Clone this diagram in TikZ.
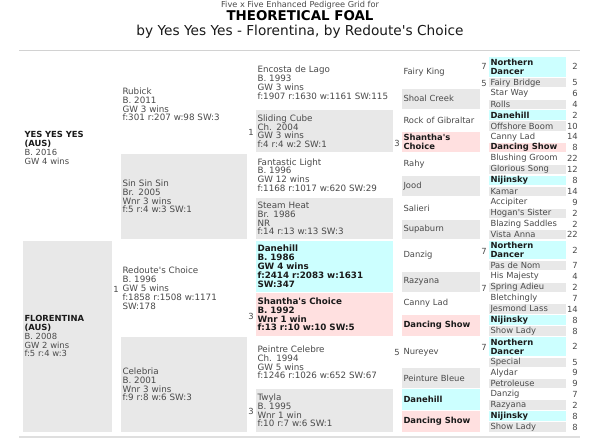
\documentclass[tikz,border=0pt]{standalone}
\usepackage{fontspec}
\setmainfont{DejaVu Sans}
\definecolor{cellgray}{HTML}{E8E8E8}
\definecolor{cellblue}{HTML}{CCFFFF}
\definecolor{cellpink}{HTML}{FFE0E0}
\definecolor{txtgray}{HTML}{4A4A4A}
\definecolor{txtdark}{HTML}{1A1A1A}
\definecolor{rulegray}{HTML}{D2D2D2}
\newcommand\gridfont{\fontsize{8.4}{8.8}\selectfont}
\newcommand\gridfontL{\fontsize{8.75}{8.8}\selectfont}
\newcommand\hname[1]{{\bfseries\color{txtdark}#1}}
\newcommand\q{\textquotesingle}
\tikzset{
  cell/.style={anchor=north west, inner xsep=1.5pt, inner ysep=0pt, outer sep=0pt,
    align=left, font=\gridfont, text=txtgray},
  gry/.style={fill=cellgray},
  blu/.style={fill=cellblue, text=txtdark, execute at begin node=\bfseries},
  pnk/.style={fill=cellpink, text=txtdark, execute at begin node=\bfseries},
  colA/.style={cell, text width=86pt},
  colB/.style={cell, text width=123pt, font=\gridfontL},
  colC/.style={cell, text width=134pt, font=\gridfontL},
  colD/.style={cell, text width=75pt},
  colE/.style={cell, text width=74pt},
  tally/.style={anchor=east, inner sep=0pt, font=\gridfont, text=txtgray},
  dup/.style={anchor=east, inner sep=0pt, font=\gridfont, text=txtgray}
}
\begin{document}
\begin{tikzpicture}[x=1pt,y=-1pt]
  \useasboundingbox (0,0) rectangle (600,440);
  \fill[white] (0,0) rectangle (600,440);
  % heading
  \node[anchor=base, inner sep=0pt, font=\fontsize{8.2}{9}\selectfont, text=txtgray] (kicker) at (300,7.5) {Five x Five Enhanced Pedigree Grid for};
  \node[anchor=base, inner sep=0pt, font=\fontsize{13.4}{15}\selectfont\bfseries, text=black] (foal) at (300,20.7) {THEORETICAL FOAL};
  \node[anchor=base, inner sep=0pt, font=\fontsize{13.7}{15}\selectfont, text=txtdark] (byline) at (300,35) {by Yes Yes Yes - Florentina, by Redoute\q s Choice};
  \draw[rulegray, line width=1.5pt] (19,50.7) -- (580,50.7);
  \draw[rulegray!70, line width=1.5pt] (19,436.8) -- (580,436.8);

  % parents
  \node[colA, minimum height=182.5pt] (sire) at (23,56.75) {\hname{YES YES YES}\\\hname{(AUS)}\\B. 2016\\GW 4 wins};
  \node[colA, gry, minimum height=191pt] (dam) at (23,240.75) {\hname{FLORENTINA}\\\hname{(AUS)}\\B. 2008\\GW 2 wins\\f:5 r:4 w:3};

  % grandparents
  \node[colB, minimum height=95.5pt] (rubick) at (121,56.75) {Rubick\\B. 2011\\GW 3 wins\\f:301 r:207 w:98 SW:3};
  \node[colB, gry, minimum height=85.5pt] (sinsinsin) at (121,153.75) {Sin Sin Sin\\Br. 2005\\Wnr 3 wins\\f:5 r:4 w:3 SW:1};
  \node[colB, minimum height=95pt] (redoute) at (121,240.75) {Redoute\q s Choice\\B. 1996\\GW 5 wins\\f:1858 r:1508 w:1171\\SW:178};
  \node[colB, gry, minimum height=94.5pt] (celebria) at (121,337.25) {Celebria\\B. 2001\\Wnr 3 wins\\f:9 r:8 w:6 SW:3};

  % great grandparents
  \node[colC, minimum height=52pt] (encosta) at (256,56.75) {Encosta de Lago\\B. 1993\\GW 3 wins\\f:1907 r:1630 w:1161 SW:115};
  \node[colC, gry, minimum height=42pt] (slidingcube) at (256,110.25) {Sliding Cube\\Ch. 2004\\GW 3 wins\\f:4 r:4 w:2 SW:1};
  \node[colC, minimum height=42.5pt] (fantastic) at (256,153.75) {Fantastic Light\\B. 1996\\GW 12 wins\\f:1168 r:1017 w:620 SW:29};
  \node[colC, gry, minimum height=41.5pt] (steamheat) at (256,197.75) {Steam Heat\\Br. 1986\\NR\\f:14 r:13 w:13 SW:3};
  \node[colC, blu, minimum height=51pt] (danehillC) at (256,240.75) {Danehill\\B. 1986\\GW 4 wins\\f:2414 r:2083 w:1631\\SW:347};
  \node[colC, pnk, minimum height=42.5pt] (shanthaC) at (256,293.25) {Shantha\q s Choice\\B. 1992\\Wnr 1 win\\f:13 r:10 w:10 SW:5};
  \node[colC, minimum height=50.5pt] (peintre) at (256,337.25) {Peintre Celebre\\Ch. 1994\\GW 5 wins\\f:1246 r:1026 w:652 SW:67};
  \node[colC, gry, minimum height=42.5pt] (twyla) at (256,389.25) {Twyla\\B. 1995\\Wnr 1 win\\f:10 r:7 w:6 SW:1};

  % fourth generation
  \node[colD, minimum height=30.5pt] (fairyking) at (402,56.75) {Fairy King};
  \node[colD, gry, minimum height=20pt] (shoalcreek) at (402,88.75) {Shoal Creek};
  \node[colD, minimum height=20.5pt] (rockgib) at (402,110.25) {Rock of Gibraltar};
  \node[colD, pnk, minimum height=20pt] (shanthaD) at (402,132.25) {Shantha\q s\\Choice};
  \node[colD, minimum height=20.5pt] (rahy) at (402,153.75) {Rahy};
  \node[colD, gry, minimum height=20.5pt] (jood) at (402,175.75) {Jood};
  \node[colD, minimum height=20.5pt] (salieri) at (402,197.75) {Salieri};
  \node[colD, gry, minimum height=19.5pt] (supaburn) at (402,219.75) {Supaburn};
  \node[colD, minimum height=29.5pt] (danzigD) at (402,240.75) {Danzig};
  \node[colD, gry, minimum height=20pt] (razyanaD) at (402,271.75) {Razyana};
  \node[colD, minimum height=20.5pt] (cannyD) at (402,293.25) {Canny Lad};
  \node[colD, pnk, minimum height=20.5pt] (dancingD) at (402,315.25) {Dancing Show};
  \node[colD, minimum height=29.5pt] (nureyev) at (402,337.25) {Nureyev};
  \node[colD, gry, minimum height=19.5pt] (peinture) at (402,368.25) {Peinture Bleue};
  \node[colD, blu, minimum height=20.5pt] (danehillD) at (402,389.25) {Danehill};
  \node[colD, pnk, minimum height=20.5pt] (dancingDb) at (402,411.25) {Dancing Show};

  % fifth generation
  \node[colE, blu, minimum height=20pt] (g1) at (489,56.75) {Northern\\Dancer};
  \node[colE, gry, minimum height=9pt] (g2) at (489,78.25) {Fairy Bridge};
  \node[colE, minimum height=9.25pt] (g3) at (489,88.75) {Star Way};
  \node[colE, gry, minimum height=9.25pt] (g4) at (489,99.5) {Rolls};
  \node[colE, blu, minimum height=9.5pt] (g5) at (489,110.25) {Danehill};
  \node[colE, gry, minimum height=9.5pt] (g6) at (489,121.25) {Offshore Boom};
  \node[colE, minimum height=9.25pt] (g7) at (489,132.25) {Canny Lad};
  \node[colE, pnk, minimum height=9.25pt] (g8) at (489,143) {Dancing Show};
  \node[colE, minimum height=9.5pt] (g9) at (489,153.75) {Blushing Groom};
  \node[colE, gry, minimum height=9.5pt] (g10) at (489,164.75) {Glorious Song};
  \node[colE, blu, minimum height=9.5pt] (g11) at (489,175.75) {Nijinsky};
  \node[colE, gry, minimum height=9.5pt] (g12) at (489,186.75) {Kamar};
  \node[colE, minimum height=9.5pt] (g13) at (489,197.75) {Accipiter};
  \node[colE, gry, minimum height=9.5pt] (g14) at (489,208.75) {Hogan\q s Sister};
  \node[colE, minimum height=9pt] (g15) at (489,219.75) {Blazing Saddles};
  \node[colE, gry, minimum height=9pt] (g16) at (489,230.25) {Vista Anna};
  \node[colE, blu, minimum height=18.5pt] (g17) at (489,240.75) {Northern\\Dancer};
  \node[colE, gry, minimum height=9.5pt] (g18) at (489,260.75) {Pas de Nom};
  \node[colE, minimum height=9.5pt] (g19) at (489,271.75) {His Majesty};
  \node[colE, gry, minimum height=9pt] (g20) at (489,282.75) {Spring Adieu};
  \node[colE, minimum height=9.5pt] (g21) at (489,293.25) {Bletchingly};
  \node[colE, gry, minimum height=9.5pt] (g22) at (489,304.25) {Jesmond Lass};
  \node[colE, blu, minimum height=9.5pt] (g23) at (489,315.25) {Nijinsky};
  \node[colE, gry, minimum height=9.5pt] (g24) at (489,326.25) {Show Lady};
  \node[colE, blu, minimum height=19pt] (g25) at (489,337.25) {Northern\\Dancer};
  \node[colE, gry, minimum height=9pt] (g26) at (489,357.75) {Special};
  \node[colE, minimum height=9pt] (g27) at (489,368.25) {Alydar};
  \node[colE, gry, minimum height=9pt] (g28) at (489,378.75) {Petroleuse};
  \node[colE, minimum height=9.5pt] (g29) at (489,389.25) {Danzig};
  \node[colE, gry, minimum height=9.5pt] (g30) at (489,400.25) {Razyana};
  \node[colE, blu, minimum height=9.5pt] (g31) at (489,411.25) {Nijinsky};
  \node[colE, gry, minimum height=9.5pt] (g32) at (489,422.25) {Show Lady};

  % occurrence counts
  \node[tally] (n1) at (578,66.75) {2};
  \node[tally] (n2) at (578,82.75) {5};
  \node[tally] (n3) at (578,93.4) {6};
  \node[tally] (n4) at (578,104.1) {4};
  \node[tally] (n5) at (578,115) {2};
  \node[tally] (n6) at (578,126) {10};
  \node[tally] (n7) at (578,136.9) {14};
  \node[tally] (n8) at (578,147.6) {8};
  \node[tally] (n9) at (578,158.5) {22};
  \node[tally] (n10) at (578,169.5) {12};
  \node[tally] (n11) at (578,180.5) {8};
  \node[tally] (n12) at (578,191.5) {14};
  \node[tally] (n13) at (578,202.5) {9};
  \node[tally] (n14) at (578,213.5) {2};
  \node[tally] (n15) at (578,224.25) {2};
  \node[tally] (n16) at (578,234.75) {22};
  \node[tally] (n17) at (578,250) {2};
  \node[tally] (n18) at (578,265.5) {7};
  \node[tally] (n19) at (578,276.5) {4};
  \node[tally] (n20) at (578,287.25) {2};
  \node[tally] (n21) at (578,298) {7};
  \node[tally] (n22) at (578,309) {14};
  \node[tally] (n23) at (578,320) {8};
  \node[tally] (n24) at (578,331) {8};
  \node[tally] (n25) at (578,346.75) {2};
  \node[tally] (n26) at (578,362.25) {5};
  \node[tally] (n27) at (578,372.75) {9};
  \node[tally] (n28) at (578,383.25) {9};
  \node[tally] (n29) at (578,394) {7};
  \node[tally] (n30) at (578,405) {2};
  \node[tally] (n31) at (578,416) {8};
  \node[tally] (n32) at (578,427) {8};

  % duplication marks
  \node[dup] (i1) at (119,289) {1};
  \node[dup] (i2) at (254,132) {1};
  \node[dup] (i3) at (254,316.5) {3};
  \node[dup] (i4) at (254,411.5) {3};
  \node[dup] (i5) at (400,143) {3};
  \node[dup] (i6) at (400,352) {5};
  \node[dup] (i7) at (487,66) {7};
  \node[dup] (i8) at (487,83) {5};
  \node[dup] (i9) at (487,251) {7};
  \node[dup] (i10) at (487,288) {7};
  \node[dup] (i11) at (487,347) {7};
\end{tikzpicture}
\end{document}
